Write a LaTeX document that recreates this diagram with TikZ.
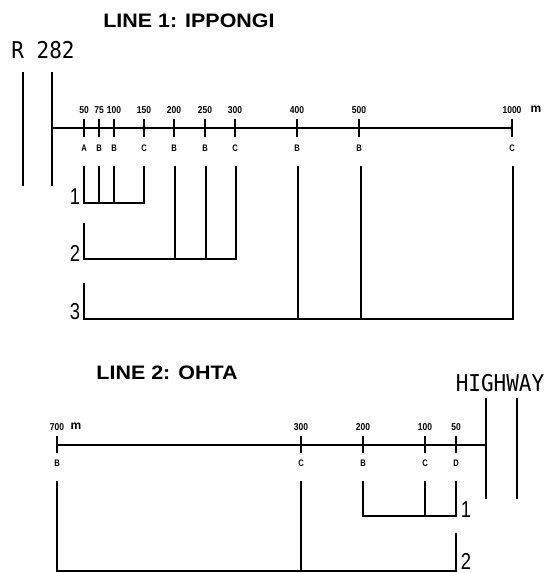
\documentclass[tikz,border=0pt]{standalone}
\usepackage{fontspec}
\setmainfont{Liberation Sans}
\newfontfamily\roadfont{DejaVu Sans Mono}
\begin{document}
\begin{tikzpicture}[x=1pt,y=-1pt,
  ln/.style={line width=1.4pt,line cap=rect},
  tk/.style={line width=1.1pt},
  title/.style={font=\fontsize{19.5}{20}\selectfont\bfseries,xscale=1.1,inner sep=0pt},
  road/.style={font=\roadfont\fontsize{21}{22}\selectfont,inner sep=0pt,yscale=1.1},
  num/.style={font=\fontsize{10}{11}\selectfont\bfseries,inner sep=0pt,xscale=0.85},
  unit/.style={font=\fontsize{12}{13}\selectfont\bfseries,inner sep=0pt},
  let/.style={font=\fontsize{9.5}{10}\selectfont\bfseries,inner sep=0pt,xscale=0.8},
  grp/.style={font=\fontsize{23}{24}\selectfont,inner sep=0pt,xscale=0.8}]
\useasboundingbox (0,0) rectangle (550,573);
% ---------- LINE 1 ----------
\node[title] (t1) at (189,21) {LINE 1: IPPONGI};
\node[road] (r282) at (43,50) {R 282};
\coordinate (ra1) at (23,73); \coordinate (rb1) at (23,185);
\coordinate (ra2) at (52,73); \coordinate (rb2) at (52,185);
\draw[ln] (ra1) -- (rb1);
\draw[ln] (ra2) -- (rb2);
\coordinate (ax1s) at (52,128); \coordinate (ax1e) at (512,128);
\draw[ln] (ax1s) -- (ax1e);
\foreach \x/\d/\l [count=\i] in {84/50/A,99/75/B,114/100/B,144/150/C,174/200/B,205/250/B,235/300/C,297/400/B,359/500/B,512/1000/C}{
  \coordinate (ta\i) at (\x,119); \coordinate (tb\i) at (\x,137);
  \draw[tk] (ta\i) -- (tb\i);
  \node[num] (n\i) at (\x,110) {\d};
  \node[let] (l\i) at (\x,148) {\l};
}
\node[unit] (m1) at (536,109) {m};
% group 1
\foreach \x [count=\i] in {84,99,114,144}{
  \coordinate (ga\i) at (\x,167); \coordinate (gb\i) at (\x,203);
  \draw[ln] (ga\i) -- (gb\i);
}
\draw[ln] (gb1) -- (gb4);
\node[grp] (g1) at (75,197) {1};
% group 2
\coordinate (hA) at (84,224); \coordinate (hB) at (84,259);
\draw[ln] (hA) -- (hB);
\foreach \x [count=\i] in {175,206,236}{
  \coordinate (ha\i) at (\x,167); \coordinate (hb\i) at (\x,259);
  \draw[ln] (ha\i) -- (hb\i);
}
\draw[ln] (hB) -- (hb3);
\node[grp] (g2) at (75,253) {2};
% group 3
\coordinate (kA) at (84,284); \coordinate (kB) at (84,319);
\draw[ln] (kA) -- (kB);
\foreach \x [count=\i] in {298,361,513}{
  \coordinate (ka\i) at (\x,167); \coordinate (kb\i) at (\x,319);
  \draw[ln] (ka\i) -- (kb\i);
}
\draw[ln] (kB) -- (kb3);
\node[grp] (g3) at (75,312) {3};
% ---------- LINE 2 ----------
\node[title] (t2) at (167,373) {LINE 2: OHTA};
\node[road] (hw) at (500,383) {HIGHWAY};
\coordinate (wa1) at (486,399); \coordinate (wb1) at (486,498);
\coordinate (wa2) at (517,399); \coordinate (wb2) at (517,498);
\draw[ln] (wa1) -- (wb1);
\draw[ln] (wa2) -- (wb2);
\coordinate (ax2s) at (57,445); \coordinate (ax2e) at (486,445);
\draw[ln] (ax2s) -- (ax2e);
\foreach \x/\d/\l [count=\i] in {57/700/B,301/300/C,363/200/B,425/100/C,456/50/D}{
  \coordinate (sa\i) at (\x,436); \coordinate (sb\i) at (\x,453);
  \draw[tk] (sa\i) -- (sb\i);
  \node[num] (p\i) at (\x,427) {\d};
  \node[let] (q\i) at (\x,463) {\l};
}
\node[unit] (m2) at (76,426) {m};
% group 1
\foreach \x [count=\i] in {363,425,456}{
  \coordinate (ua\i) at (\x,482); \coordinate (ub\i) at (\x,516);
  \draw[ln] (ua\i) -- (ub\i);
}
\draw[ln] (ub1) -- (ub3);
\node[grp] (o1) at (466,510) {1};
% group 2
\coordinate (vA) at (57,482); \coordinate (vB) at (57,571);
\coordinate (vC) at (301,482); \coordinate (vD) at (301,571);
\coordinate (vE) at (456,534); \coordinate (vF) at (456,571);
\draw[ln] (vA) -- (vB);
\draw[ln] (vC) -- (vD);
\draw[ln] (vE) -- (vF);
\draw[ln] (vB) -- (vF);
\node[grp] (o2) at (466,561) {2};
\end{tikzpicture}
\end{document}
